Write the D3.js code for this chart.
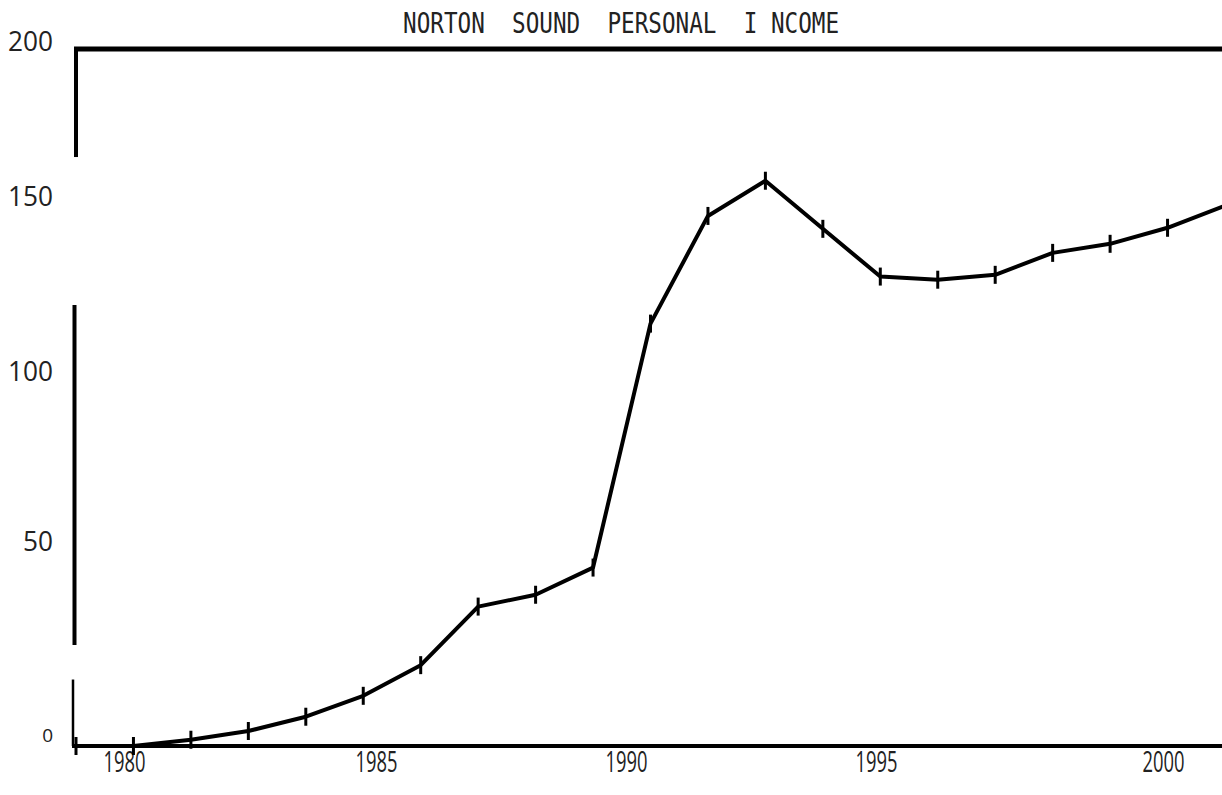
<!DOCTYPE html>
<html>
<head>
<meta charset="utf-8">
<script src="https://cdn.jsdelivr.net/npm/d3@7"></script>
<style>
  body { margin: 0; background: #fff; }
  svg { display: block; }
</style>
</head>
<body>
<svg id="chart" width="1222" height="795"></svg>
<script>
// data
const years = [1980, 1981, 1982, 1983, 1984, 1985, 1986, 1987, 1988, 1989, 1990,
  1991, 1992, 1993, 1994, 1995, 1996, 1997, 1998, 1999, 2000];
const income = [0, 0, 1.8, 4.3, 8.4, 14.4, 23.2, 40, 43.4, 51.2, 121.2,
  152.1, 162.2, 148.4, 134.7, 133.8, 135.2, 141.5, 144.1, 148.7, 155];
const yTicks = [0, 50, 100, 150, 200];
const xTicks = [1980, 1985, 1990, 1995, 2000];
// the scan drops ink on the left axis in these value ranges
const leftAxisGaps = [[126, 169], [18.5, 29]];

const svg = d3.select("#chart");

// data scales
const x = d3.scaleLinear().domain([1980, 2000]).range([76, 1225]);
const y = d3.scaleLinear().domain([0, 200]).range([746, 49]);

// the printed labels sit a little off the plotted grid, so they get their own scales
const yLabel = d3.scaleLinear().domain(yTicks).range([735, 542, 372, 197, 42]);
const xLabel = d3.scaleLinear().domain(xTicks).range([124, 376, 626, 876, 1163]);

// frame: top rule and bottom baseline
svg.append("line")
  .attr("x1", 74).attr("x2", 1222)
  .attr("y1", y(200)).attr("y2", y(200))
  .attr("stroke", "#000").attr("stroke-width", 5);

svg.append("line")
  .attr("x1", 72).attr("x2", 1222)
  .attr("y1", y(0)).attr("y2", y(0))
  .attr("stroke", "#000").attr("stroke-width", 4);

// left axis with the gaps from the scan
var segs = [];
var segTop = 200;
leftAxisGaps.forEach(function (g) {
  segs.push([segTop, g[1]]);
  segTop = g[0];
});
segs.push([segTop, 0]);
svg.selectAll("line.yaxis")
  .data(segs)
  .join("line")
  .attr("class", "yaxis")
  .attr("x1", (d, i) => 76 - i * 1.5)
  .attr("x2", (d, i) => 76 - i * 1.5)
  .attr("y1", d => y(d[0]) - 2)
  .attr("y2", d => y(d[1]))
  .attr("stroke", "#000")
  .attr("stroke-width", (d, i) => (i == 2 ? 2.5 : 4));

// y labels
var gy = svg.append("g")
  .attr("transform", "translate(53,0)")
  .call(d3.axisLeft(yLabel).tickValues(yTicks).tickSize(0).tickPadding(0));
gy.select(".domain").remove();
gy.selectAll("text")
  .attr("fill", "#222")
  .style("font-family", "'Open Sans', sans-serif")
  .style("font-size", d => (d == 0 ? "19px" : "28px"))
  .attr("textLength", d => (d == 0 ? null : String(d).length * 15))
  .attr("lengthAdjust", "spacingAndGlyphs");

// x labels
var gx = svg.append("g")
  .attr("transform", "translate(0,751)")
  .call(d3.axisBottom(xLabel).tickValues(xTicks).tickFormat(d3.format("d")).tickSize(0).tickPadding(0));
gx.select(".domain").remove();
gx.selectAll("text")
  .attr("fill", "#222")
  .style("font-family", "'Open Sans', sans-serif")
  .style("font-size", "30px")
  .attr("textLength", 42)
  .attr("lengthAdjust", "spacingAndGlyphs");

// title
svg.append("text")
  .attr("x", 403)
  .attr("y", 33)
  .attr("fill", "#222")
  .attr("xml:space", "preserve")
  .style("white-space", "pre")
  .style("font-family", "'DejaVu Sans Mono', monospace")
  .style("font-size", "28px")
  .attr("textLength", 436)
  .attr("lengthAdjust", "spacingAndGlyphs")
  .text("NORTON  SOUND  PERSONAL  I NCOME");

// the income line
const points = years.map((yr, i) => ({ year: yr, value: income[i] }));

const line = d3.line()
  .x(d => x(d.year))
  .y(d => y(d.value));

svg.append("path")
  .datum(points)
  .attr("fill", "none")
  .attr("stroke", "#000")
  .attr("stroke-width", 4)
  .attr("stroke-linejoin", "round")
  .attr("stroke-linecap", "round")
  .attr("d", line);

// little vertical hash marks at each year
svg.selectAll("line.mark")
  .data(points.filter(d => d.year < 2000))
  .join("line")
  .attr("class", "mark")
  .attr("x1", d => x(d.year))
  .attr("x2", d => x(d.year))
  .attr("y1", d => y(d.value) - 9)
  .attr("y2", d => y(d.value) + 9)
  .attr("stroke", "#000")
  .attr("stroke-width", 3);
</script>
</body>
</html>
